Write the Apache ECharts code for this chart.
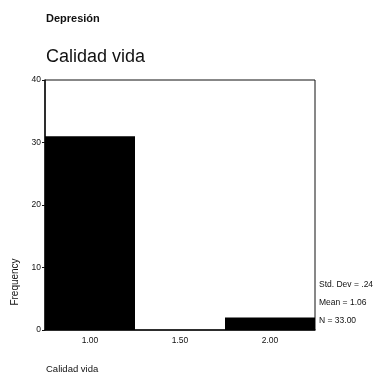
<!DOCTYPE html>
<html><head><meta charset="utf-8">
<script src="https://cdn.jsdelivr.net/npm/echarts@6/dist/echarts.min.js"></script>
<style>html,body{margin:0;padding:0;background:#fff}#c{width:383px;height:378px}</style>
</head><body><div id="c"></div>
<script>
var categories = ['1.00', '1.50', '2.00'];
var frequencies = [31, 0, 2];
var statsLines = ['Std. Dev = .24', 'Mean = 1.06', 'N = 33.00'];
var yTicks = { min: 0, max: 40, interval: 10 };

var F = 'Liberation Sans, Arial, sans-serif';
var chart = echarts.init(document.getElementById('c'), null, { renderer: 'canvas' });
chart.setOption({
  animation: false,
  backgroundColor: '#fff',
  title: [
    { text: 'Depresión', left: 46, top: 13, padding: 0, textStyle: { fontFamily: F, fontSize: 11, fontWeight: 'bold', color: '#111' } },
    { text: 'Calidad vida', left: 46, top: 48, padding: 0, textStyle: { fontFamily: F, fontSize: 18, fontWeight: 'normal', color: '#111' } }
  ],
  grid: { left: 45, right: 68, top: 80, bottom: 48, show: true, borderColor: '#111', borderWidth: 1 },
  xAxis: {
    type: 'category', data: categories,
    axisLine: { lineStyle: { color: '#111', width: 1.5 } },
    axisTick: { alignWithLabel: true, length: 3, lineStyle: { color: '#111', width: 1.5 } },
    axisLabel: { fontFamily: F, fontSize: 8.5, color: '#111', margin: 6 }
  },
  yAxis: {
    type: 'value', min: yTicks.min, max: yTicks.max, interval: yTicks.interval,
    splitLine: { show: false },
    axisLine: { show: true, lineStyle: { color: '#111', width: 1.5 } },
    axisTick: { show: true, length: 3, lineStyle: { color: '#111', width: 1 } },
    axisLabel: { fontFamily: F, fontSize: 8.5, color: '#111', margin: 4 }
  },
  series: [{
    type: 'bar', data: frequencies, barCategoryGap: '0%',
    itemStyle: { color: '#000' }
  }],
  graphic: [
    { type: 'text', x: 15, y: 282, rotation: Math.PI / 2,
      style: { text: 'Frequency', fontFamily: F, fontSize: 10, fill: '#111', textAlign: 'center', textVerticalAlign: 'middle' } },
    { type: 'text', left: 46, top: 364,
      style: { text: 'Calidad vida', fontFamily: F, fontSize: 9.5, fill: '#111' } },
    { type: 'text', left: 319, top: 280,
      style: { text: statsLines[0], fontFamily: F, fontSize: 8.5, fill: '#111' } },
    { type: 'text', left: 319, top: 298,
      style: { text: statsLines[1], fontFamily: F, fontSize: 8.5, fill: '#111' } },
    { type: 'text', left: 319, top: 316,
      style: { text: statsLines[2], fontFamily: F, fontSize: 8.5, fill: '#111' } }
  ]
});
</script></body></html>
